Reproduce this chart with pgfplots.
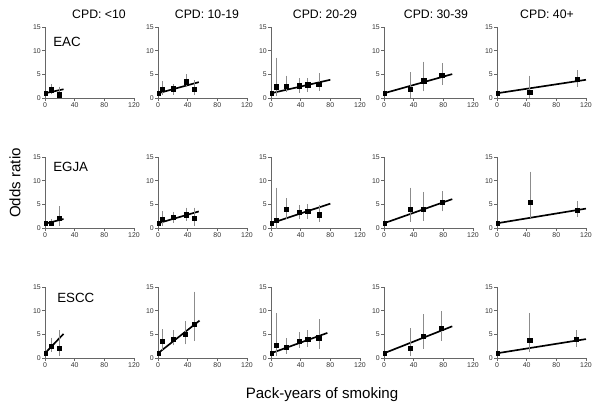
\documentclass[border=0pt]{standalone}
\usepackage{pgfplots}
\pgfplotsset{compat=1.18}
\usepackage{fontspec}
\setmainfont{Liberation Sans}
\def\px{0.75pt}
\pgfplotsset{
  panel/.style={
    scale only axis, width=66.75pt, height=53.25pt,
    anchor=south west,
    xmin=0, xmax=120, ymin=0, ymax=15,
    xtick={0,40,80,120}, ytick={0,5,10,15},
    axis lines*=left,
    axis line style={black!60, line width=0.45pt},
    tick style={black!60, line width=0.45pt},
    major tick length=2pt, tick align=outside,
    tick label style={font=\fontsize{5.2}{6}\selectfont, text=black!80},
    xticklabel style={inner sep=1pt},
    yticklabel style={inner sep=1pt},
    /pgf/number format/assume math mode=true,
    clip=false,
  },
  fitline/.style={black, line width=1.25pt, no marks},
  refpt/.style={only marks, mark=square*, mark size=1.2pt, black},
  pts/.style={only marks, mark=square*, mark size=1.6pt, black,
    error bars/.cd, y dir=both, y explicit,
    error bar style={black!45, line width=0.5pt},
    error mark options={black!45, mark size=1.1pt, line width=0.5pt}},
}
\newcommand\panel[4]{%
  \begin{axis}[panel, at={(#1*\px,-#2*\px)}]
    \addplot[fitline] coordinates {#3};
    \addplot[refpt] coordinates {(1.2,1)};
    \addplot[pts] table[row sep=\\, x=x, y=y,
      y error plus expr=\thisrow{hi}-\thisrow{y},
      y error minus expr=\thisrow{y}-\thisrow{lo}] {#4};
  \end{axis}}
\begin{document}
\begin{tikzpicture}
\path[use as bounding box] (0,0) rectangle (600*\px,-412*\px);
% Row 1: EAC
\panel{45}{98}{(0,1) (25,1.85)}{x y lo hi\\ 8.2 1.75 1.1 2.6\\ 19 0.7 0.3 2.1\\}
\panel{158}{98}{(0,1) (55,3.35)}{x y lo hi\\ 6 1.9 1.05 3.3\\ 21 1.95 1.05 2.6\\ 38 3.45 2.6 4.7\\ 48.6 1.9 0.9 3.4\\}
\panel{271}{98}{(0,1) (80,3.85)}{x y lo hi\\ 6.8 2.4 0.7 8.2\\ 21 2.5 1.6 4.4\\ 37.7 2.6 1.4 3.9\\ 49.5 2.8 1.6 3.9\\ 64.5 2.95 1.8 4.9\\}
\panel{384}{98}{(0,1) (92,5.05)}{x y lo hi\\ 35 1.85 0.3 5.1\\ 53.6 3.65 1.7 7.4\\ 78 4.8 3.1 7.0\\}
\panel{497}{98}{(0,1) (120,3.85)}{x y lo hi\\ 44 1.2 0.35 4.4\\ 108 3.9 2.7 5.6\\}
% Row 2: EGJA
\panel{45}{228}{(0,0.9) (25,1.9)}{x y lo hi\\ 8.2 1.07 0.7 1.5\\ 19 2.0 0.7 4.3\\}
\panel{158}{228}{(0,1) (55,3.5)}{x y lo hi\\ 6 1.9 0.7 3.3\\ 21 2.2 1.4 3.1\\ 38 2.8 1.8 4.0\\ 48.6 2.0 0.8 4.0\\}
\panel{271}{228}{(0,1) (80,5.15)}{x y lo hi\\ 6.8 1.6 0.2 8.2\\ 21 3.9 2.2 6.0\\ 37.7 3.3 2.2 4.6\\ 49.5 3.55 2.2 4.8\\ 65.5 2.8 1.6 4.5\\}
\panel{384}{228}{(0,1) (92,6.1)}{x y lo hi\\ 35 3.9 1.6 8.2\\ 53 3.9 1.85 7.3\\ 78.6 5.4 3.8 7.5\\}
\panel{497}{228}{(0,1) (120,4.1)}{x y lo hi\\ 44.5 5.4 2.4 11.6\\ 108 3.8 2.6 5.4\\}
% Row 3: ESCC
\panel{45}{358}{(0,1) (25,5.1)}{x y lo hi\\ 8.2 2.5 1.6 4.0\\ 19 2.1 0.7 5.6\\}
\panel{158}{358}{(0,1) (56,7.9)}{x y lo hi\\ 6 3.5 1.9 5.8\\ 21 3.9 3.0 5.6\\ 37 5.0 3.2 7.5\\ 48.6 7.2 3.9 13.7\\}
\panel{271}{358}{(0,1) (76,5.3)}{x y lo hi\\ 6.8 2.7 0.7 9.2\\ 21 2.25 1.2 3.9\\ 37.7 3.5 2.5 5.1\\ 49.5 3.9 2.7 5.6\\ 64.5 4.3 2.25 7.9\\}
\panel{384}{358}{(0,1) (92,6.7)}{x y lo hi\\ 35 2.0 0.7 6.0\\ 53 4.6 2.3 8.9\\ 77.7 6.3 4.0 9.6\\}
\panel{497}{358}{(0,1) (120,4.0)}{x y lo hi\\ 44 3.7 1.6 9.2\\ 107 3.9 2.6 5.6\\}
% Titles
\node[font=\fontsize{9.2}{11}\selectfont] at (99*\px,-14*\px) {CPD: <10};
\node[font=\fontsize{9.2}{11}\selectfont] at (207*\px,-14*\px) {CPD: 10-19};
\node[font=\fontsize{9.2}{11}\selectfont] at (325*\px,-14*\px) {CPD: 20-29};
\node[font=\fontsize{9.2}{11}\selectfont] at (436*\px,-14*\px) {CPD: 30-39};
\node[font=\fontsize{9.2}{11}\selectfont] at (547*\px,-14*\px) {CPD: 40+};
% Row labels
\node[font=\fontsize{10}{12}\selectfont, anchor=west, inner sep=0pt] at (53*\px,-41.5*\px) {EAC};
\node[font=\fontsize{10}{12}\selectfont, anchor=west, inner sep=0pt] at (53*\px,-167*\px) {EGJA};
\node[font=\fontsize{10}{12}\selectfont, anchor=west, inner sep=0pt] at (57*\px,-297.5*\px) {ESCC};
% Axis titles
\node[font=\fontsize{11.3}{13}\selectfont, rotate=90] at (15*\px,-183*\px) {Odds ratio};
\node[font=\fontsize{11.3}{13}\selectfont] at (322*\px,-395*\px) {Pack-years of smoking};
\end{tikzpicture}
\end{document}
